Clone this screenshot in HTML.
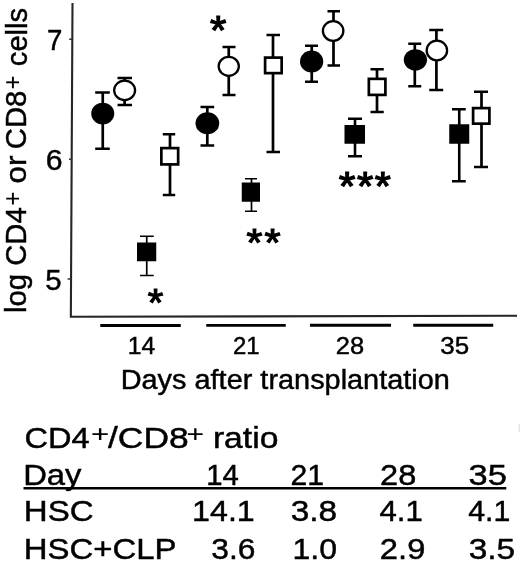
<!DOCTYPE html>
<html><head><meta charset="utf-8"><style>
html,body{margin:0;padding:0;background:#fff;}
svg{display:block;will-change:transform;}
text{font-family:"Liberation Sans",sans-serif;fill:#000;white-space:pre;stroke:#000;stroke-width:0.45px;}
</style></head><body>
<svg width="520" height="564" viewBox="0 0 520 564">
<rect width="520" height="564" fill="#fff"/>
<path d="M72.5 3L70.85 316.7L517 315.8" stroke="#262626" stroke-width="2.1" fill="none"/>
<path d="M69.2 39.3H72M69 159.3H72M67.6 279H71" stroke="#333" stroke-width="1.4"/>
<path d="M102.75 92.5V148.75M95.2 92.5H109.8M95.2 148.75H109.8" stroke="#000" stroke-width="2.7" fill="none"/>
<ellipse cx="102.75" cy="113.475" rx="11.5" ry="10.825" fill="#000"/>
<path d="M207.3 107V145.5M200.5 107H214.2M200.5 145.5H214.2" stroke="#000" stroke-width="2.7" fill="none"/>
<ellipse cx="207.375" cy="123.225" rx="11.875" ry="11.075" fill="#000"/>
<path d="M311.75 45.75V81.75M305 45.75H318M305 81.75H318" stroke="#000" stroke-width="2.7" fill="none"/>
<ellipse cx="311.625" cy="61.475" rx="11.625" ry="11.075" fill="#000"/>
<path d="M414.8 43.75V86.25M408.25 43.75H421.25M408.25 86.25H421.25" stroke="#000" stroke-width="2.7" fill="none"/>
<ellipse cx="415.375" cy="59.85" rx="11.625" ry="10.7" fill="#000"/>
<path d="M124.6 78V105M117.5 78H132M117.5 105H132" stroke="#000" stroke-width="2.7" fill="none"/>
<ellipse cx="124.625" cy="90.35" rx="10.475" ry="9.7" fill="#fff" stroke="#000" stroke-width="2.3"/>
<path d="M228.75 47V95M222.5 47H235.5M222.5 95H235.5" stroke="#000" stroke-width="2.7" fill="none"/>
<ellipse cx="228.75" cy="66.35" rx="10.1" ry="9.45" fill="#fff" stroke="#000" stroke-width="2.3"/>
<path d="M333.5 11.25V65.5M327.5 11.25H340M327.5 65.5H340" stroke="#000" stroke-width="2.7" fill="none"/>
<ellipse cx="333.125" cy="30.975" rx="10.225" ry="9.825" fill="#fff" stroke="#000" stroke-width="2.3"/>
<path d="M436.4 30V90M429.25 30H443.2M429.25 90H443.2" stroke="#000" stroke-width="2.7" fill="none"/>
<ellipse cx="436.875" cy="50.475" rx="10.225" ry="9.825" fill="#fff" stroke="#000" stroke-width="2.3"/>
<path d="M146.75 236.25V275.5M140 236.25H153.75M140 275.5H153.75" stroke="#000" stroke-width="1.7" fill="none"/>
<rect x="137" y="242.5" width="19.25" height="18.75" fill="#000"/>
<path d="M251.5 178.75V211.25M245 178.75H257M245 211.25H257" stroke="#000" stroke-width="1.7" fill="none"/>
<rect x="241.75" y="182.5" width="18.25" height="19.25" fill="#000"/>
<path d="M355 118.75V156.25M348 118.75H362M348 156.25H362" stroke="#000" stroke-width="2.6" fill="none"/>
<rect x="344.5" y="125" width="20.5" height="18.75" fill="#000"/>
<path d="M459.25 109.25V181.25M452 109.25H465.75M452 181.25H465.75" stroke="#000" stroke-width="2.6" fill="none"/>
<rect x="449.25" y="124.25" width="20.0" height="19.5" fill="#000"/>
<path d="M170 134.25V195M162.8 134.25H175.2M162.8 195H175.2" stroke="#000" stroke-width="2.7" fill="none"/>
<rect x="161.35" y="148.1" width="16.8" height="16.3" fill="#fff" stroke="#000" stroke-width="2.7"/>
<path d="M273 35V152M266.5 35H280M266.5 152H280" stroke="#000" stroke-width="2.7" fill="none"/>
<rect x="265.1" y="57.6" width="16.55" height="15.55" fill="#fff" stroke="#000" stroke-width="2.7"/>
<path d="M377 69.25V112M370.5 69.25H383.75M370.5 112H383.75" stroke="#000" stroke-width="2.7" fill="none"/>
<rect x="368.85" y="78.85" width="16.55" height="16.05" fill="#fff" stroke="#000" stroke-width="2.7"/>
<path d="M481.5 91.75V167M474 91.75H488M474 167H488" stroke="#000" stroke-width="2.7" fill="none"/>
<rect x="473.1" y="108.1" width="16.3" height="15.55" fill="#fff" stroke="#000" stroke-width="2.7"/>
<path d="M100.3 325.5H180.75M206.25 325.4H285.75M310 325.3H391M413.25 325.2H493.25" stroke="#000" stroke-width="2.9"/>
<text transform="translate(47.12,50.20) scale(0.9525,1)" font-size="28.99">7</text>
<text transform="translate(45.69,169.60) scale(1.0425,1)" font-size="28.99">6</text>
<text transform="translate(45.33,290.40) scale(1.0130,1)" font-size="28.99">5</text>
<text transform="translate(127.83,354.00) scale(1.0413,1)" font-size="23.62">14</text>
<text transform="translate(233.00,354.00) scale(1.0143,1)" font-size="23.62">21</text>
<text transform="translate(335.73,354.00) scale(1.0790,1)" font-size="23.62">28</text>
<text transform="translate(440.21,354.00) scale(1.0994,1)" font-size="23.62">35</text>
<text transform="translate(120.69,389.00) scale(1.0491,1)" font-size="27.54">Days after transplantation</text>
<text transform="translate(24.62,448.00) scale(1.1065,1)" font-size="29.42">CD4</text>
<text transform="translate(90.94,442.20) scale(0.3125,0.2449)" font-size="100">+</text>
<text transform="translate(108.00,448.00) scale(1.2041,1)" font-size="29.42">/CD8</text>
<text transform="translate(186.49,442.20) scale(0.3021,0.2449)" font-size="100">+</text>
<text transform="translate(203.54,448.00) scale(1.1453,1)" font-size="29.42"> ratio</text>
<text transform="translate(23.18,484.70) scale(1.1152,1)" font-size="29.42">Day</text>
<text transform="translate(23.85,521.30) scale(1.1239,1)" font-size="29.42">HSC</text>
<text transform="translate(23.76,559.00) scale(1.1199,1)" font-size="29.42">HSC+CLP</text>
<text transform="translate(206.16,484.70) scale(0.9959,1)" font-size="29.42">14</text>
<text transform="translate(290.49,484.70) scale(1.0264,1)" font-size="29.42">21</text>
<text transform="translate(380.12,484.70) scale(1.1080,1)" font-size="29.42">28</text>
<text transform="translate(468.62,484.70) scale(1.1715,1)" font-size="29.42">35</text>
<text transform="translate(192.12,521.30) scale(1.0944,1)" font-size="29.42">14.1</text>
<text transform="translate(290.66,521.30) scale(1.1352,1)" font-size="29.42">3.8</text>
<text transform="translate(379.38,521.30) scale(1.0622,1)" font-size="29.42">4.1</text>
<text transform="translate(468.14,521.30) scale(1.0300,1)" font-size="29.42">4.1</text>
<text transform="translate(211.33,559.00) scale(1.0794,1)" font-size="29.42">3.6</text>
<text transform="translate(292.43,559.00) scale(1.0906,1)" font-size="29.42">1.0</text>
<text transform="translate(379.86,559.00) scale(1.1132,1)" font-size="29.42">2.9</text>
<text transform="translate(468.66,559.00) scale(1.1352,1)" font-size="29.42">3.5</text>
<text style="stroke-width:3.0px" stroke-linejoin="miter" transform="translate(147.80,316.07) scale(0.4000,0.3868)" font-size="100">*</text>
<text style="stroke-width:3.0px" stroke-linejoin="miter" transform="translate(210.09,43.61) scale(0.4211,0.3974)" font-size="100">*</text>
<text style="stroke-width:3.0px" stroke-linejoin="miter" transform="translate(246.60,255.94) scale(0.4079,0.3921)" font-size="100">*</text>
<text style="stroke-width:3.0px" stroke-linejoin="miter" transform="translate(264.59,255.94) scale(0.4132,0.3921)" font-size="100">*</text>
<text style="stroke-width:3.0px" stroke-linejoin="miter" transform="translate(338.79,200.38) scale(0.4276,0.4039)" font-size="100">*</text>
<text style="stroke-width:3.0px" stroke-linejoin="miter" transform="translate(357.09,200.38) scale(0.4184,0.4039)" font-size="100">*</text>
<text style="stroke-width:3.0px" stroke-linejoin="miter" transform="translate(374.69,200.38) scale(0.4132,0.4039)" font-size="100">*</text>
<text transform="translate(25.50,313.05) rotate(-90) scale(1.0216,1)" font-size="28.70">log CD4</text>
<text transform="translate(20.79,205.58) rotate(-90) scale(0.2354,0.2653)" font-size="100">+</text>
<text transform="translate(26.00,183.50) rotate(-90) scale(1.0916,1)" font-size="28.70">or</text>
<text transform="translate(26.30,149.21) rotate(-90) scale(1.0190,1)" font-size="28.70">CD8</text>
<text transform="translate(21.25,89.27) rotate(-90) scale(0.2333,0.2612)" font-size="100">+</text>
<text transform="translate(26.80,66.17) rotate(-90) scale(1.0164,1)" font-size="28.70">cells</text>
<path d="M23.5 488.3H506.3" stroke="#000" stroke-width="2.4"/>
<rect x="518.6" y="424" width="1.4" height="8" fill="#e4e4e4"/>
</svg>
</body></html>
